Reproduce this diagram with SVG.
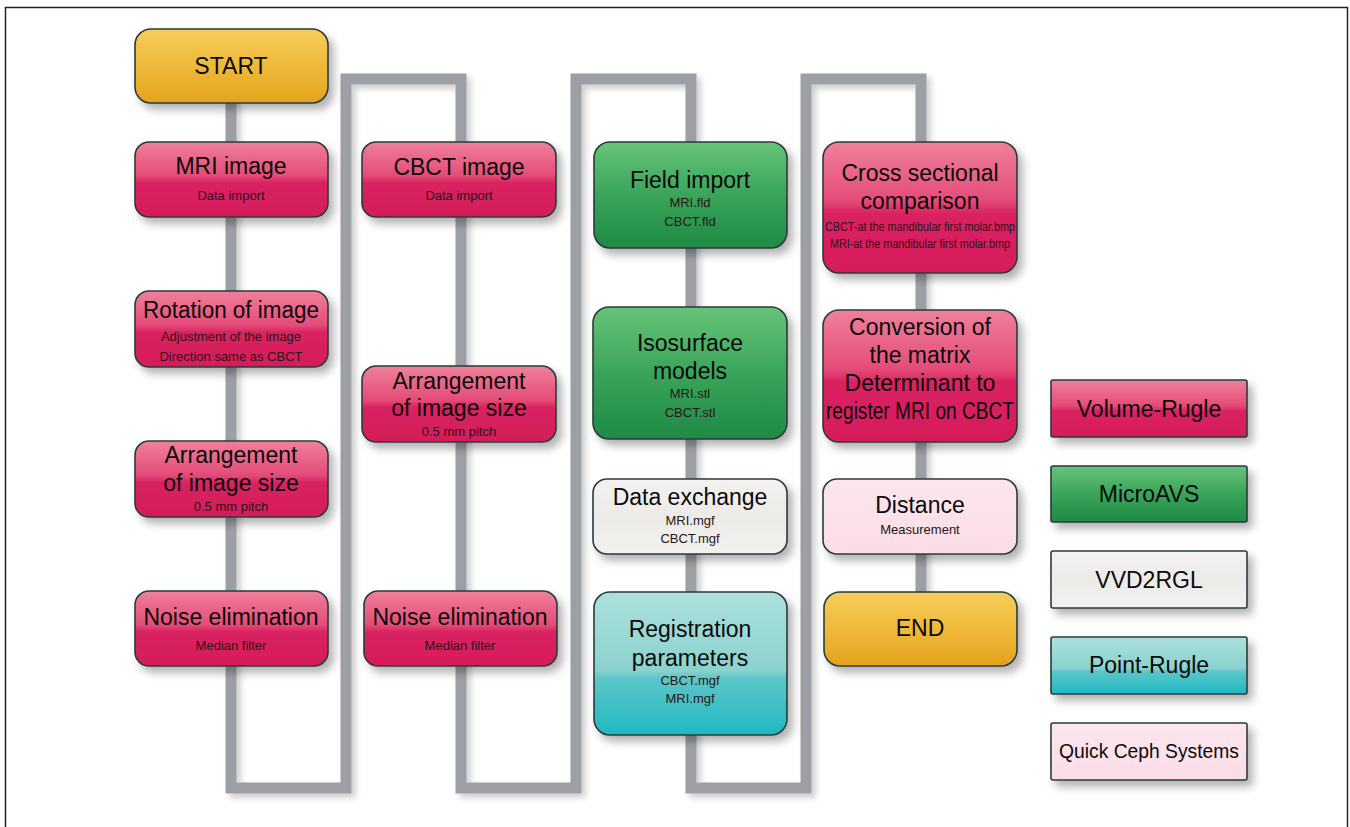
<svg xmlns="http://www.w3.org/2000/svg" width="1350" height="827" viewBox="0 0 1350 827">
<defs>
<linearGradient id="gPink" x1="0" y1="0" x2="0" y2="1">
<stop offset="0" stop-color="#f0809a"/><stop offset="0.45" stop-color="#e44c78"/><stop offset="0.55" stop-color="#d92060"/><stop offset="1" stop-color="#d51f5a"/>
</linearGradient>
<linearGradient id="gGreen" x1="0" y1="0" x2="0" y2="1">
<stop offset="0" stop-color="#66c478"/><stop offset="0.5" stop-color="#3aa45a"/><stop offset="1" stop-color="#1f8a45"/>
</linearGradient>
<linearGradient id="gGray" x1="0" y1="0" x2="0" y2="1">
<stop offset="0" stop-color="#f4f2f0"/><stop offset="0.5" stop-color="#ecebe8"/><stop offset="1" stop-color="#f2f1ef"/>
</linearGradient>
<linearGradient id="gCyan" x1="0" y1="0" x2="0" y2="1">
<stop offset="0" stop-color="#ace0dc"/><stop offset="0.55" stop-color="#8ad2ce"/><stop offset="0.6" stop-color="#5cc6c8"/><stop offset="1" stop-color="#1fb8c2"/>
</linearGradient>
<linearGradient id="gLPink" x1="0" y1="0" x2="0" y2="1">
<stop offset="0" stop-color="#fce6ee"/><stop offset="1" stop-color="#fbdce7"/>
</linearGradient>
<linearGradient id="gGold" x1="0" y1="0" x2="0" y2="1">
<stop offset="0" stop-color="#f6cd5a"/><stop offset="0.5" stop-color="#efb93a"/><stop offset="1" stop-color="#e3a31e"/>
</linearGradient>
<filter id="sh" x="-20%" y="-20%" width="150%" height="160%">
<feDropShadow dx="5" dy="6" stdDeviation="4" flood-color="#000" flood-opacity="0.3"/>
</filter>
<filter id="psh" x="-10%" y="-10%" width="120%" height="120%">
<feDropShadow dx="4" dy="4" stdDeviation="3" flood-color="#000" flood-opacity="0.2"/>
</filter>
</defs>
<style>
.n{stroke:#2b3b3c;stroke-width:1.6;filter:url(#sh)}
.t{font-family:"Liberation Sans",Arial,sans-serif;font-size:23px;fill:#0a0a0a;text-anchor:middle}
.s{font-family:"Liberation Sans",Arial,sans-serif;font-size:13px;fill:#2a1416;text-anchor:middle}
.lg{font-family:"Liberation Sans",Arial,sans-serif;font-size:23px;fill:#0a0a0a;text-anchor:middle}
</style>
<rect x="0" y="0" width="1350" height="827" fill="#ffffff"/>
<rect x="5.5" y="7.5" width="1342" height="840" fill="none" stroke="#222" stroke-width="1.5"/>

<g id="connectors">
<path d="M231,90 V788 H346 V79 H461 V788 H576 V79 H691 V788 H806 V79 H921 V630" fill="none" stroke="#9ca0a4" stroke-width="11" stroke-linejoin="miter" filter="url(#psh)"/>
</g>

<g id="start"><rect class="n" x="135" y="29" width="193" height="74" rx="16" fill="url(#gGold)"/><text class="t" x="231" y="74">START</text></g>

<g id="mri-image"><rect class="n" x="135" y="142" width="193" height="75" rx="14" fill="url(#gPink)"/><text class="t" x="231" y="174">MRI image</text><text class="s" x="231" y="200">Data import</text></g>

<g id="rotation"><rect class="n" x="135" y="291" width="193" height="76" rx="14" fill="url(#gPink)"/><text class="t" x="231" y="318" textLength="176" lengthAdjust="spacingAndGlyphs">Rotation of image</text><text class="s" x="231" y="341">Adjustment of the image</text><text class="s" x="231" y="361">Direction same as CBCT</text></g>

<g id="arrangement-mri"><rect class="n" x="135" y="441" width="193" height="76" rx="14" fill="url(#gPink)"/><text class="t" x="231" y="463">Arrangement</text><text class="t" x="231" y="491">of image size</text><text class="s" x="231" y="511">0.5 mm pitch</text></g>

<g id="noise-mri"><rect class="n" x="135" y="591" width="193" height="75" rx="14" fill="url(#gPink)"/><text class="t" x="231" y="625">Noise elimination</text><text class="s" x="231" y="650">Median filter</text></g>

<g id="cbct-image"><rect class="n" x="362" y="142" width="194" height="75" rx="14" fill="url(#gPink)"/><text class="t" x="459" y="175">CBCT image</text><text class="s" x="459" y="200">Data import</text></g>

<g id="arrangement-cbct"><rect class="n" x="362" y="366" width="194" height="76" rx="14" fill="url(#gPink)"/><text class="t" x="459" y="389">Arrangement</text><text class="t" x="459" y="416">of image size</text><text class="s" x="459" y="436">0.5 mm pitch</text></g>

<g id="noise-cbct"><rect class="n" x="364" y="591" width="193" height="75" rx="14" fill="url(#gPink)"/><text class="t" x="460" y="625">Noise elimination</text><text class="s" x="460" y="650">Median filter</text></g>

<g id="field-import"><rect class="n" x="594" y="142" width="193" height="106" rx="16" fill="url(#gGreen)"/><text class="t" x="690" y="188">Field import</text><text class="s" x="690" y="207">MRI.fld</text><text class="s" x="690" y="226">CBCT.fld</text></g>

<g id="isosurface"><rect class="n" x="593" y="307" width="194" height="132" rx="16" fill="url(#gGreen)"/><text class="t" x="690" y="351">Isosurface</text><text class="t" x="690" y="379">models</text><text class="s" x="690" y="398">MRI.stl</text><text class="s" x="690" y="417">CBCT.stl</text></g>

<g id="data-exchange"><rect class="n" x="593" y="479" width="194" height="75" rx="14" fill="url(#gGray)"/><text class="t" x="690" y="505">Data exchange</text><text class="s" x="690" y="525">MRI.mgf</text><text class="s" x="690" y="543">CBCT.mgf</text></g>

<g id="registration"><rect class="n" x="594" y="592" width="193" height="143" rx="16" fill="url(#gCyan)"/><text class="t" x="690" y="637">Registration</text><text class="t" x="690" y="666">parameters</text><text class="s" x="690" y="685">CBCT.mgf</text><text class="s" x="690" y="703">MRI.mgf</text></g>

<g id="cross-sectional"><rect class="n" x="823" y="142" width="194" height="131" rx="16" fill="url(#gPink)"/><text class="t" x="920" y="181">Cross sectional</text><text class="t" x="920" y="209">comparison</text><text class="s" x="920" y="231" textLength="190" lengthAdjust="spacingAndGlyphs" style="font-size:12px">CBCT-at the mandibular first molar.bmp</text><text class="s" x="920" y="248" textLength="180" lengthAdjust="spacingAndGlyphs" style="font-size:12px">MRI-at the mandibular first molar.bmp</text></g>

<g id="conversion"><rect class="n" x="823" y="310" width="194" height="132" rx="16" fill="url(#gPink)"/><text class="t" x="920" y="335">Conversion of</text><text class="t" x="920" y="363">the matrix</text><text class="t" x="920" y="391">Determinant to</text><text class="t" x="920" y="419" textLength="188" lengthAdjust="spacingAndGlyphs">register MRI on CBCT</text></g>

<g id="distance"><rect class="n" x="823" y="479" width="194" height="75" rx="14" fill="url(#gLPink)"/><text class="t" x="920" y="513">Distance</text><text class="s" x="920" y="534">Measurement</text></g>

<g id="end"><rect class="n" x="824" y="592" width="193" height="74" rx="16" fill="url(#gGold)"/><text class="t" x="920" y="636">END</text></g>

<g id="legend-volume-rugle"><rect class="n" x="1051" y="380" width="196" height="57" rx="2" fill="url(#gPink)"/><text class="lg" x="1149" y="417">Volume-Rugle</text></g>
<g id="legend-microavs"><rect class="n" x="1051" y="466" width="196" height="56" rx="2" fill="url(#gGreen)"/><text class="lg" x="1149" y="502">MicroAVS</text></g>
<g id="legend-vvd2rgl"><rect class="n" x="1051" y="551" width="196" height="57" rx="2" fill="url(#gGray)"/><text class="lg" x="1149" y="588">VVD2RGL</text></g>
<g id="legend-point-rugle"><rect class="n" x="1051" y="637" width="196" height="57" rx="2" fill="url(#gCyan)"/><text class="lg" x="1149" y="673">Point-Rugle</text></g>
<g id="legend-quick-ceph"><rect class="n" x="1051" y="723" width="196" height="57" rx="2" fill="url(#gLPink)"/><text class="lg" x="1149" y="758" textLength="180" lengthAdjust="spacingAndGlyphs" style="font-size:21px">Quick Ceph Systems</text></g>
</svg>
